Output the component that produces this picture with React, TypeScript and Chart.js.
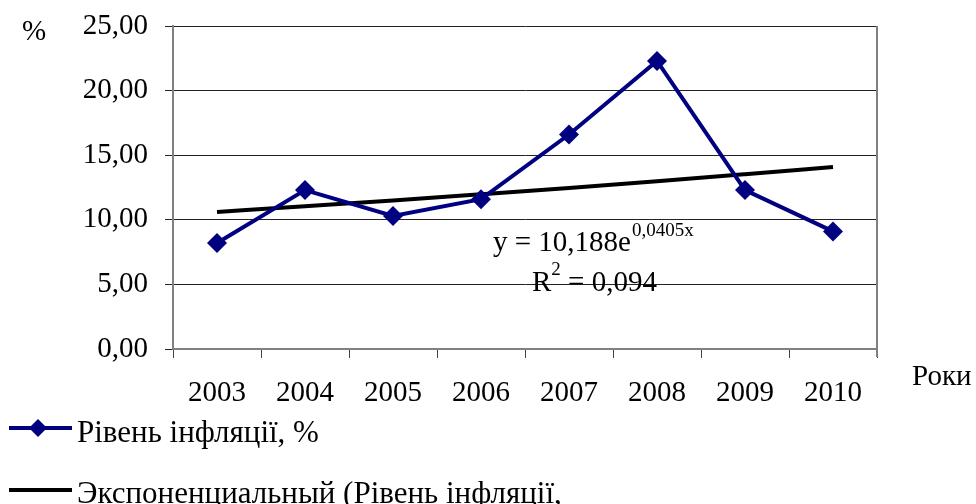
import React, { useEffect, useRef } from "react";
import { Chart, registerables } from "chart.js";

Chart.register(...registerables);

const years = ["2003", "2004", "2005", "2006", "2007", "2008", "2009", "2010"];
const inflation = [8.2, 12.3, 10.3, 11.6, 16.6, 22.3, 12.3, 9.1];
const trend = [10.61, 11.05, 11.5, 11.98, 12.47, 12.99, 13.53, 14.08];
const seriesName = "Рівень інфляції, %";
const trendName = "Экспоненциальный (Рівень інфляції,";
const yAxisTitle = "%";
const xAxisTitle = "Роки";
const eqMain = "y = 10,188e";
const eqExp = "0,0405x";
const r2Main = "R";
const r2Exp = "2";
const r2Rest = " = 0,094";

const FONT = "'Liberation Serif', 'Times New Roman', serif";
const NAVY = "#000080";

const extrasPlugin = {
  id: "extras",
  beforeDatasetsDraw(chart: any) {
    const { ctx, chartArea } = chart;
    ctx.save();
    ctx.strokeStyle = "#808080";
    ctx.lineWidth = 2;
    ctx.beginPath();
    ctx.moveTo(chartArea.right, chartArea.top);
    ctx.lineTo(chartArea.right, chartArea.bottom + 8);
    ctx.stroke();
    ctx.restore();
  },
  afterDraw(chart: any) {
    const { ctx } = chart;
    ctx.save();
    ctx.fillStyle = "#000";
    ctx.textBaseline = "alphabetic";
    ctx.textAlign = "left";
    ctx.font = `29px ${FONT}`;
    ctx.fillText(yAxisTitle, 22, 40);
    ctx.fillText(xAxisTitle, 912, 385);

    // trend equation
    ctx.font = `29px ${FONT}`;
    ctx.fillText(eqMain, 493, 251);
    let w = ctx.measureText(eqMain).width;
    ctx.font = `19px ${FONT}`;
    ctx.fillText(eqExp, 493 + w + 1, 236);
    ctx.font = `29px ${FONT}`;
    ctx.fillText(r2Main, 532, 291);
    w = ctx.measureText(r2Main).width;
    ctx.font = `19px ${FONT}`;
    ctx.fillText(r2Exp, 532 + w, 275);
    const w2 = ctx.measureText(r2Exp).width;
    ctx.font = `29px ${FONT}`;
    ctx.fillText(r2Rest, 532 + w + w2, 291);

    // legend
    ctx.lineWidth = 4;
    ctx.strokeStyle = NAVY;
    ctx.beginPath();
    ctx.moveTo(9, 428);
    ctx.lineTo(72, 428);
    ctx.stroke();
    ctx.fillStyle = NAVY;
    ctx.beginPath();
    ctx.moveTo(38, 419);
    ctx.lineTo(47, 428);
    ctx.lineTo(38, 437);
    ctx.lineTo(29, 428);
    ctx.closePath();
    ctx.fill();
    ctx.strokeStyle = "#000";
    ctx.beginPath();
    ctx.moveTo(9, 490);
    ctx.lineTo(72, 490);
    ctx.stroke();
    ctx.fillStyle = "#000";
    ctx.font = `31px ${FONT}`;
    ctx.fillText(seriesName, 77, 442);
    ctx.fillText(trendName, 77, 503);
    ctx.restore();
  },
};

export default function App() {
  const ref = useRef<HTMLCanvasElement>(null);
  useEffect(() => {
    const canvas = ref.current!;
    const chart = new Chart(canvas, {
      type: "line",
      data: {
        labels: years,
        datasets: [
          {
            label: seriesName,
            data: inflation,
            borderColor: NAVY,
            backgroundColor: NAVY,
            borderWidth: 4,
            pointStyle: "rectRot",
            pointRadius: 10,
            pointBorderWidth: 0,
            pointBackgroundColor: NAVY,
            tension: 0,
            order: 1,
          },
          {
            label: trendName,
            data: trend,
            borderColor: "#000",
            borderWidth: 4,
            pointRadius: 0,
            cubicInterpolationMode: "monotone",
            order: 2,
          },
        ],
      },
      options: {
        animation: false,
        responsive: true,
        maintainAspectRatio: false,
        layout: { padding: { left: 0, top: 26, right: 99, bottom: 0 } },
        plugins: { legend: { display: false }, tooltip: { enabled: false } },
        scales: {
          x: {
            offset: true,
            afterFit: (s: any) => {
              s.height = 155;
              s.paddingLeft = 0;
              s.paddingRight = 0;
            },
            grid: {
              offset: true,
              drawOnChartArea: false,
              tickLength: 9,
              color: "#444",
              lineWidth: 1,
            },
            border: { color: "#808080", width: 2 },
            ticks: {
              color: "#000",
              font: { family: FONT, size: 29 },
              padding: 18,
              maxRotation: 0,
            },
          },
          y: {
            min: 0,
            max: 25,
            afterFit: (s: any) => {
              s.width = 173;
              s.paddingTop = 0;
              s.paddingBottom = 0;
            },
            grid: { color: "#222", lineWidth: 1, tickLength: 8 },
            border: { color: "#808080", width: 2 },
            ticks: {
              stepSize: 5,
              color: "#000",
              font: { family: FONT, size: 29 },
              padding: 17,
              callback: (v: any) => Number(v).toFixed(2).replace(".", ","),
            },
          },
        },
      },
      plugins: [extrasPlugin],
    });
    return () => chart.destroy();
  }, []);
  return (
    <div style={{ position: "absolute", left: 0, top: 0, width: 976, height: 504, background: "#fff" }}>
      <canvas ref={ref} />
    </div>
  );
}
